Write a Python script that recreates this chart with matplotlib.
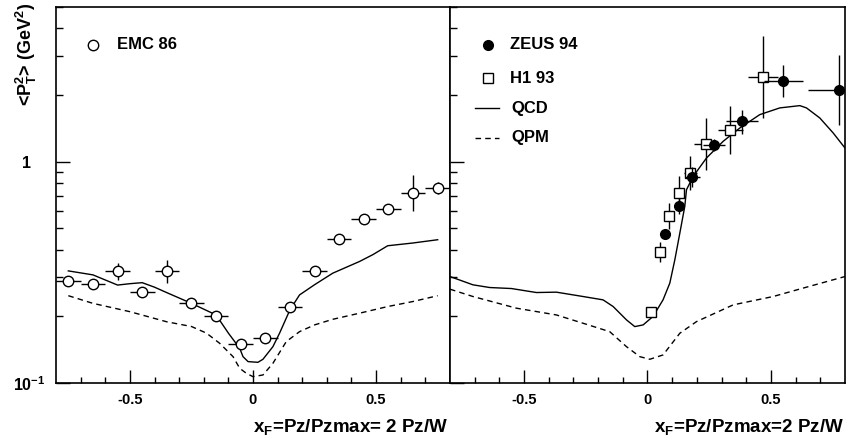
import matplotlib
matplotlib.use('Agg')
import matplotlib.pyplot as plt
import numpy as np
from matplotlib.ticker import FixedLocator, LogLocator, NullFormatter, FixedFormatter

# Fuente negrita tipo Helvetica (estilo ROOT)
plt.rcParams['font.family'] = ['Liberation Sans', 'DejaVu Sans']
plt.rcParams['font.weight'] = 'bold'
plt.rcParams['mathtext.fontset'] = 'custom'
plt.rcParams['mathtext.rm'] = 'Liberation Sans:bold'
plt.rcParams['mathtext.it'] = 'Liberation Sans:bold'
plt.rcParams['mathtext.bf'] = 'Liberation Sans:bold'
plt.rcParams['mathtext.default'] = 'rm'
plt.rcParams['axes.unicode_minus'] = False

# ---------------- Datos: panel izquierdo (EMC 86) ----------------
emc_x = [-0.75, -0.65, -0.55, -0.45, -0.35, -0.25, -0.15, -0.05,
         0.05, 0.15, 0.25, 0.35, 0.45, 0.55, 0.65, 0.75]
emc_y = [0.289, 0.280, 0.319, 0.259, 0.319, 0.229, 0.200, 0.150,
         0.160, 0.220, 0.319, 0.448, 0.550, 0.611, 0.722, 0.760]
emc_ylo = [0.015, 0.008, 0.028, 0.006, 0.037, 0.006, 0.005, 0.004,
           0.004, 0.006, 0.008, 0.010, 0.012, 0.014, 0.123, 0.046]
emc_yhi = [0.015, 0.008, 0.030, 0.006, 0.042, 0.006, 0.005, 0.004,
           0.004, 0.006, 0.008, 0.010, 0.012, 0.014, 0.149, 0.049]
emc_xerr = 0.05

# curvas teoricas panel izquierdo
qcd_l_x = [-0.75, -0.65, -0.55, -0.5, -0.45, -0.4, -0.35, -0.25, -0.15, -0.1,
           -0.054, -0.0405, -0.020, 0.020, 0.0405, 0.081, 0.108, 0.15, 0.189,
           0.25, 0.324, 0.4325, 0.4865, 0.547, 0.6486, 0.75]
qcd_l_y = [0.321, 0.308, 0.277, 0.281, 0.284, 0.271, 0.256, 0.229, 0.203, 0.168,
           0.1435, 0.1315, 0.1249, 0.124, 0.128, 0.146, 0.168, 0.214, 0.250,
           0.278, 0.3135, 0.354, 0.380, 0.417, 0.429, 0.444]
qpm_l_x = [-0.75, -0.65, -0.5, -0.35, -0.25, -0.189, -0.135, -0.081, -0.054,
           -0.027, 0.0, 0.0405, 0.081, 0.135, 0.189, 0.25, 0.324, 0.4325,
           0.547, 0.6486, 0.75]
qpm_l_y = [0.248, 0.229, 0.210, 0.189, 0.180, 0.168, 0.151, 0.1315, 0.1165,
           0.1106, 0.1068, 0.1087, 0.1228, 0.1538, 0.1706, 0.183, 0.194,
           0.2067, 0.2215, 0.2333, 0.248]

# ---------------- Datos: panel derecho (ZEUS 94, H1 93) ----------------
zeus_x = [0.07, 0.127, 0.182, 0.269, 0.384, 0.55, 0.775]
zeus_y = [0.471, 0.628, 0.852, 1.19, 1.52, 2.31, 2.10]
zeus_ylo = [0.02, 0.05, 0.085, 0.073, 0.18, 0.35, 0.64]
zeus_yhi = [0.02, 0.055, 0.094, 0.078, 0.20, 0.42, 0.93]
zeus_xerr = [0.02, 0.02, 0.03, 0.045, 0.065, 0.08, 0.125]

h1_x = [0.016, 0.05, 0.088, 0.128, 0.174, 0.239, 0.336, 0.469]
h1_y = [0.210, 0.390, 0.570, 0.721, 0.889, 1.206, 1.386, 2.42]
h1_ylo = [0.005, 0.039, 0.072, 0.117, 0.144, 0.286, 0.307, 0.84]
h1_yhi = [0.005, 0.043, 0.083, 0.140, 0.172, 0.375, 0.394, 1.29]
h1_xerr = [0.005, 0.005, 0.005, 0.01, 0.025, 0.05, 0.05, 0.06]

qcd_r_x = [-0.8, -0.707, -0.639, -0.551, -0.45, -0.369, -0.261, -0.18, -0.139,
           -0.085, -0.0515, -0.0176, 0.0227, 0.063, 0.0904, 0.1107, 0.131,
           0.151, 0.158, 0.185, 0.239, 0.3065, 0.374, 0.455, 0.536, 0.617,
           0.644, 0.698, 0.752, 0.8]
qcd_r_y = [0.3027, 0.2777, 0.270, 0.2672, 0.2563, 0.2573, 0.2459, 0.2375, 0.2215,
           0.1928, 0.1798, 0.183, 0.200, 0.2375, 0.2826, 0.360, 0.4755,
           0.628, 0.747, 0.858, 1.039, 1.236, 1.42, 1.632, 1.75, 1.792,
           1.75, 1.576, 1.349, 1.153]
qpm_r_x = [-0.8, -0.707, -0.531, -0.369, -0.261, -0.153, -0.085, -0.031, 0.0095,
           0.063, 0.131, 0.1986, 0.347, 0.509, 0.644, 0.8]
qpm_r_y = [0.2654, 0.2459, 0.2178, 0.203, 0.1862, 0.1706, 0.1459, 0.1315, 0.128,
           0.1339, 0.1678, 0.1894, 0.2254, 0.2459, 0.271, 0.3027]

xticks = [-0.5, 0.0, 0.5]
xticklabels = ['-0.5', '0', '0.5']
yticks = [0.1, 1.0]
yticklabels = [r'$10^{-1}$', '1   ']

# ---------------- Figura ----------------
fig = plt.figure(figsize=(8.46, 4.38), dpi=100)
ax1 = fig.add_axes([0.0662, 0.1256, 0.4657, 0.8584])
ax2 = fig.add_axes([0.5319, 0.1256, 0.4669, 0.8584])

for ax in (ax1, ax2):
    ax.set_yscale('log')
    ax.set_xlim(-0.8, 0.8)
    ax.set_ylim(0.1, 5.0)
    ax.xaxis.set_major_locator(FixedLocator(xticks))
    ax.xaxis.set_major_formatter(FixedFormatter(xticklabels))
    ax.xaxis.set_minor_locator(FixedLocator(np.arange(-0.7, 0.75, 0.1)))
    ax.yaxis.set_major_locator(FixedLocator(yticks))
    ax.yaxis.set_minor_locator(LogLocator(base=10, subs=np.arange(2, 10)))
    ax.yaxis.set_minor_formatter(NullFormatter())
    ax.tick_params(which='both', direction='in', top=False, right=False, width=1.0)
    ax.tick_params(axis='y', which='major', length=10)
    ax.tick_params(axis='y', which='minor', length=5)
    ax.tick_params(axis='x', which='major', length=9.5, labelsize=10.5, pad=7)
    ax.tick_params(axis='x', which='minor', length=4.5)
    for s in ax.spines.values():
        s.set_linewidth(1.2)

ax1.yaxis.set_major_formatter(FixedFormatter(yticklabels))
ax1.tick_params(axis='y', which='major', labelsize=11.5, pad=8)
ax2.yaxis.set_major_formatter(NullFormatter())

# Panel izquierdo
ax1.plot(qcd_l_x, qcd_l_y, 'k-', lw=1.0)
ax1.plot(qpm_l_x, qpm_l_y, 'k--', lw=1.0, dashes=(4, 3))
ax1.errorbar(emc_x, emc_y, xerr=emc_xerr, yerr=[emc_ylo, emc_yhi], fmt='none',
             ecolor='black', elinewidth=1.0, capsize=0, zorder=3)
ax1.plot(emc_x, emc_y, 'o', mfc='white', mec='black', ms=7.5, mew=1.0, zorder=4)

# Panel derecho
ax2.plot(qcd_r_x, qcd_r_y, 'k-', lw=1.0)
ax2.plot(qpm_r_x, qpm_r_y, 'k--', lw=1.0, dashes=(4, 3))
ax2.errorbar(h1_x, h1_y, xerr=h1_xerr, yerr=[h1_ylo, h1_yhi], fmt='none',
             ecolor='black', elinewidth=1.0, capsize=0, zorder=3)
ax2.plot(h1_x, h1_y, 's', mfc='white', mec='black', ms=7, mew=1.0, zorder=4)
ax2.errorbar(zeus_x, zeus_y, xerr=zeus_xerr, yerr=[zeus_ylo, zeus_yhi], fmt='none',
             ecolor='black', elinewidth=1.0, capsize=0, zorder=5)
ax2.plot(zeus_x, zeus_y, 'o', mfc='black', mec='black', ms=7, zorder=6)

# Leyendas (manuales, estilo ROOT)
ax1.plot([0.094], [0.899], 'o', mfc='white', mec='black', ms=7.5, mew=1.0,
         transform=ax1.transAxes, clip_on=False)
ax1.text(0.155, 0.899, 'EMC 86', transform=ax1.transAxes, fontsize=12,
         va='center', ha='left')

ax2.plot([0.097], [0.899], 'o', mfc='black', mec='black', ms=7,
         transform=ax2.transAxes)
ax2.text(0.152, 0.899, 'ZEUS 94', transform=ax2.transAxes, fontsize=12,
         va='center', ha='left')
ax2.plot([0.097], [0.811], 's', mfc='white', mec='black', ms=7, mew=1.0,
         transform=ax2.transAxes)
ax2.text(0.152, 0.811, 'H1 93', transform=ax2.transAxes, fontsize=12,
         va='center', ha='left')
ax2.plot([0.063, 0.124], [0.731, 0.731], 'k-', lw=1.0, transform=ax2.transAxes)
ax2.text(0.155, 0.731, 'QCD', transform=ax2.transAxes, fontsize=12,
         va='center', ha='left')
ax2.plot([0.063, 0.124], [0.652, 0.652], 'k--', lw=1.0, dashes=(4, 3),
         transform=ax2.transAxes)
ax2.text(0.155, 0.652, 'QPM', transform=ax2.transAxes, fontsize=12,
         va='center', ha='left')

# Etiquetas de ejes
fig.text(0.031, 0.875, r'<P$_T^2$> (GeV$^2$)', rotation=90, fontsize=13,
         ha='center', va='center')
fig.text(0.530, 0.0137, r'x$_F$=Pz/Pzmax= 2 Pz/W', fontsize=13.5, ha='right', va='baseline')
fig.text(0.997, 0.0137, r'x$_F$=Pz/Pzmax=2 Pz/W', fontsize=13.5, ha='right', va='baseline')

fig.savefig('out.png', dpi=100)
